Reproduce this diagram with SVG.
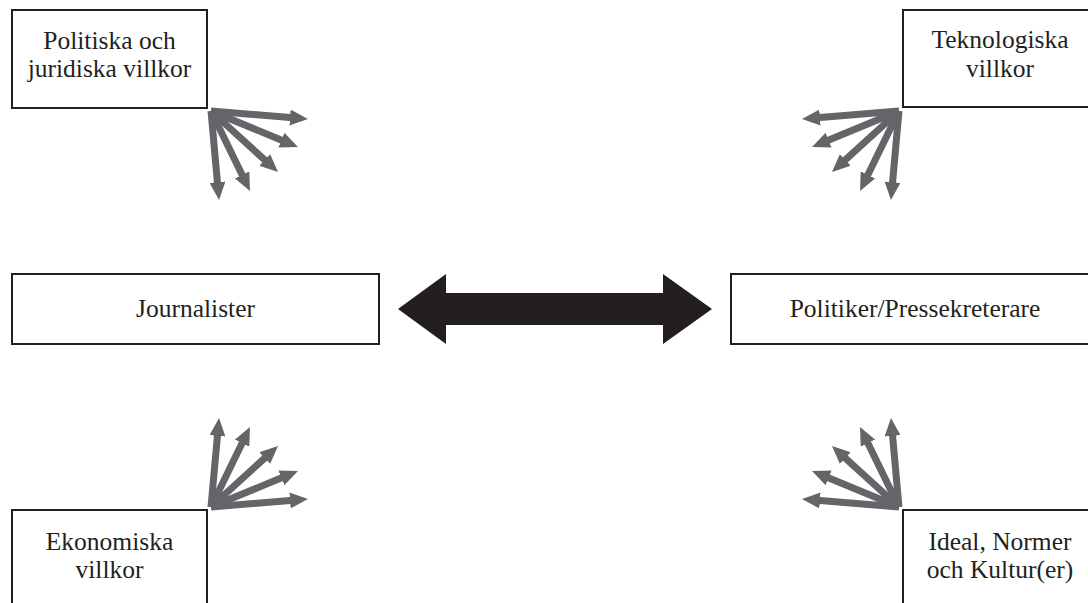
<svg xmlns="http://www.w3.org/2000/svg" width="1088" height="603" viewBox="0 0 1088 603">
<style>
.box{fill:#fff;stroke:#231f20;stroke-width:2}
.lbl{font-family:"Liberation Serif","DejaVu Serif",serif;font-size:25.5px;fill:#231f20;text-anchor:middle}
.ray{stroke:#646569;stroke-width:7;fill:none;marker-end:url(#head)}
</style>
<defs>
<marker id="head" markerUnits="userSpaceOnUse" viewBox="0 0 18 16" refX="3" refY="8" markerWidth="18" markerHeight="16" orient="auto">
<path d="M0,0 L18,8 L0,16 Z" fill="#646569"/>
</marker>
</defs>
<rect width="1088" height="603" fill="#fff"/>
<g id="politiska">
<rect class="box" x="12" y="10" width="195" height="98"/>
<text class="lbl" x="109.5" y="48.5">Politiska och</text>
<text class="lbl" x="109.5" y="76.5">juridiska villkor</text>
</g>
<g id="teknologiska">
<rect class="box" x="903" y="10" width="200" height="97"/>
<text class="lbl" x="1000" y="48">Teknologiska</text>
<text class="lbl" x="1000" y="77">villkor</text>
</g>
<g id="journalister">
<rect class="box" x="12" y="274" width="367" height="70"/>
<text class="lbl" x="195.5" y="317">Journalister</text>
</g>
<g id="politiker">
<rect class="box" x="731" y="274" width="370" height="70"/>
<text class="lbl" x="915" y="317">Politiker/Pressekreterare</text>
</g>
<g id="ekonomiska">
<rect class="box" x="12" y="510" width="195" height="100"/>
<text class="lbl" x="109.5" y="550">Ekonomiska</text>
<text class="lbl" x="109.5" y="578">villkor</text>
</g>
<g id="ideal">
<rect class="box" x="903" y="510" width="200" height="100"/>
<text class="lbl" x="1000" y="550">Ideal, Normer</text>
<text class="lbl" x="1000" y="578">och Kultur(er)</text>
</g>
<g id="connectors">
<polygon points="398,309 446,274 446,293 663,293 663,274 712,309 663,344 663,325 446,325 446,344" fill="#231f20"/>
<g id="fan-top-left">
<line class="ray" x1="211" y1="111" x2="293.0" y2="117.8"/>
<line class="ray" x1="211" y1="111" x2="284.1" y2="141.3"/>
<line class="ray" x1="211" y1="111" x2="266.9" y2="161.9"/>
<line class="ray" x1="211" y1="111" x2="243.4" y2="177.5"/>
<line class="ray" x1="211" y1="111" x2="217.7" y2="185.1"/>
</g>
<g id="fan-top-right">
<line class="ray" x1="899" y1="111" x2="817.0" y2="117.8"/>
<line class="ray" x1="899" y1="111" x2="825.9" y2="141.3"/>
<line class="ray" x1="899" y1="111" x2="843.1" y2="161.9"/>
<line class="ray" x1="899" y1="111" x2="866.6" y2="177.5"/>
<line class="ray" x1="899" y1="111" x2="892.3" y2="185.1"/>
</g>
<g id="fan-bottom-left">
<line class="ray" x1="211" y1="507" x2="293.0" y2="500.2"/>
<line class="ray" x1="211" y1="507" x2="284.1" y2="476.7"/>
<line class="ray" x1="211" y1="507" x2="266.9" y2="456.1"/>
<line class="ray" x1="211" y1="507" x2="243.4" y2="440.5"/>
<line class="ray" x1="211" y1="507" x2="217.7" y2="432.9"/>
</g>
<g id="fan-bottom-right">
<line class="ray" x1="899" y1="507" x2="817.0" y2="500.2"/>
<line class="ray" x1="899" y1="507" x2="825.9" y2="476.7"/>
<line class="ray" x1="899" y1="507" x2="843.1" y2="456.1"/>
<line class="ray" x1="899" y1="507" x2="866.6" y2="440.5"/>
<line class="ray" x1="899" y1="507" x2="892.3" y2="432.9"/>
</g>
</g>
</svg>
